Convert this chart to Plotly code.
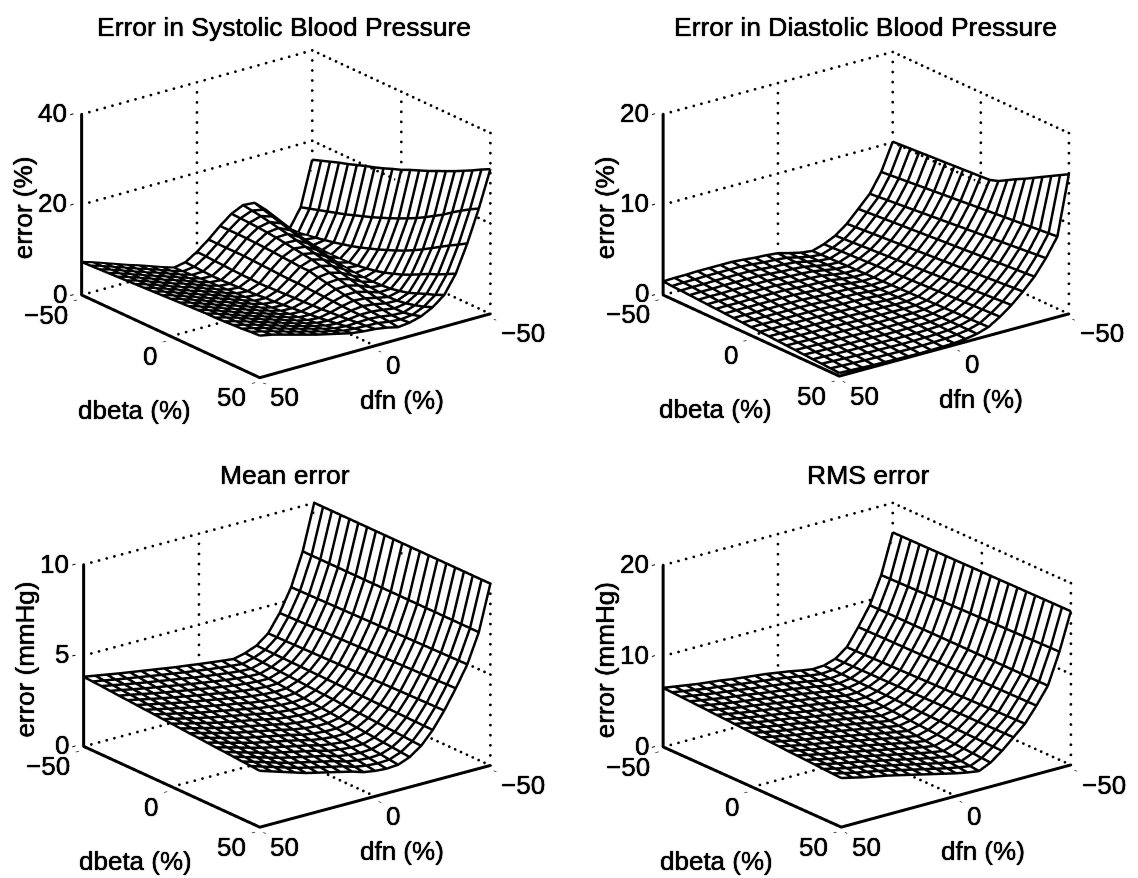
import plotly.graph_objects as go
import math

dfn = [50, 45, 40, 35, 30, 25, 20, 15, 10, 5, 0, -5, -10, -15, -20, -25, -30, -35, -40, -45, -50]
dbeta = [-50, -45, -40, -35, -30, -25, -20, -15, -10, -5, 0, 5, 10, 15, 20, 25, 30, 35, 40, 45, 50]
xy_ticks = [-50, 0, 50]
xy_labels = ["\u221250", "0", "50"]

systolic = [
[7.3,6.5,5.6,4.7,3.8,3.0,2.1,1.2,0.4,0.9,2.5,4.5,6.8,8.8,10.0,9.8,7.5,4.5,1.8,6.0,15.8],
[7.4,6.6,5.7,4.8,3.9,3.1,2.2,1.3,0.5,0.8,2.4,4.5,6.8,8.7,9.7,9.2,6.9,3.9,2.0,6.6,16.5],
[7.5,6.7,5.8,4.9,4.0,3.2,2.3,1.4,0.6,0.7,2.3,4.5,6.8,8.6,9.4,8.6,6.3,3.4,2.3,7.2,17.2],
[7.6,6.8,5.9,5.0,4.1,3.3,2.4,1.5,0.7,0.6,2.2,4.5,6.8,8.5,9.0,8.0,5.7,3.0,2.7,7.8,17.9],
[7.7,6.9,6.0,5.1,4.2,3.4,2.5,1.6,0.8,0.6,2.1,4.5,6.7,8.3,8.6,7.4,5.1,2.7,3.1,8.4,18.5],
[7.8,7.0,6.1,5.2,4.3,3.5,2.6,1.7,0.9,0.7,2.0,4.4,6.6,8.1,8.2,6.8,4.5,2.5,3.5,9.0,19.2],
[7.9,7.1,6.2,5.3,4.4,3.6,2.7,1.8,1.0,0.8,2.0,4.3,6.5,7.8,7.7,6.2,4.0,2.4,4.0,9.7,19.9],
[8.0,7.2,6.3,5.4,4.5,3.7,2.8,1.9,1.1,0.9,1.9,4.2,6.3,7.5,7.2,5.7,3.6,2.4,4.5,10.4,20.5],
[8.1,7.3,6.4,5.5,4.6,3.8,2.9,2.0,1.2,1.0,2.0,4.1,6.2,7.2,6.7,5.2,3.2,2.5,5.1,11.1,21.2],
[8.2,7.4,6.5,5.6,4.7,3.9,3.0,2.1,1.3,1.2,2.1,4.0,6.0,6.9,6.2,4.7,2.9,2.7,5.8,11.9,22.0],
[8.3,7.5,6.6,5.7,4.8,4.0,3.1,2.2,1.5,1.3,2.2,4.0,6.0,6.4,5.7,4.2,2.7,3.0,6.5,12.7,22.7],
[8.4,7.6,6.7,5.8,4.9,4.1,3.2,2.3,1.6,1.5,2.3,3.9,5.5,5.8,5.1,3.7,2.6,3.4,7.3,13.6,23.6],
[8.5,7.7,6.8,5.9,5.0,4.2,3.3,2.5,1.8,1.7,2.4,3.8,5.1,5.3,4.6,3.3,2.6,3.9,8.1,14.5,24.4],
[8.6,7.8,6.9,6.0,5.1,4.3,3.5,2.7,2.0,1.9,2.5,3.7,4.7,4.8,4.1,3.0,2.7,4.6,9.0,15.5,25.2],
[8.7,7.9,7.0,6.1,5.3,4.5,3.7,2.9,2.2,2.1,2.6,3.6,4.3,4.3,3.6,2.8,2.9,5.3,10.0,16.6,26.1],
[8.7,8.0,7.2,6.3,5.5,4.7,3.9,3.1,2.5,2.3,2.8,3.5,4.0,3.8,3.2,2.7,3.3,6.2,11.1,17.8,27.0],
[8.8,8.1,7.3,6.5,5.7,4.9,4.1,3.4,2.8,2.6,2.9,3.4,3.7,3.4,2.9,2.8,3.8,7.2,12.3,19.0,27.9],
[8.9,8.2,7.5,6.7,5.9,5.1,4.4,3.7,3.1,2.9,3.1,3.4,3.4,3.1,2.7,3.1,4.6,8.2,13.5,20.4,28.9],
[9.0,8.4,7.7,6.9,6.1,5.4,4.7,4.0,3.4,3.2,3.3,3.4,3.2,2.8,2.7,3.6,5.4,9.0,14.7,21.7,29.9],
[9.2,8.6,7.9,7.1,6.4,5.7,5.0,4.4,3.8,3.6,3.5,3.4,3.0,2.8,3.1,4.2,6.1,10.0,15.8,22.9,31.0],
[9.3,8.8,8.1,7.4,6.7,6.0,5.4,4.8,4.2,3.9,3.7,3.3,2.7,3.0,3.7,5.0,7.0,11.0,17.0,24.0,32.0],
]
diastolic = [
[1.5,1.55,1.55,1.6,1.6,1.6,1.6,1.5,1.37,1.3,1.18,.85,.55,.4,.8,1.4,2.37,3.67,5.0,7.07,10.07],
[1.44,1.49,1.49,1.53,1.53,1.53,1.53,1.43,1.31,1.24,1.13,.82,.55,.43,.85,1.47,2.44,3.74,5.09,7.16,10.13],
[1.39,1.43,1.42,1.46,1.46,1.46,1.45,1.36,1.25,1.19,1.08,.8,.55,.46,.9,1.53,2.52,3.82,5.19,7.25,10.2],
[1.33,1.36,1.36,1.39,1.39,1.38,1.38,1.29,1.18,1.13,1.03,.77,.55,.48,.94,1.6,2.59,3.89,5.28,7.34,10.26],
[1.27,1.3,1.29,1.32,1.32,1.31,1.3,1.22,1.12,1.07,.98,.75,.55,.51,.99,1.66,2.67,3.97,5.37,7.44,10.33],
[1.21,1.24,1.23,1.25,1.25,1.24,1.23,1.15,1.06,1.01,.94,.72,.55,.54,1.04,1.73,2.74,4.04,5.46,7.53,10.39],
[1.16,1.18,1.16,1.18,1.17,1.17,1.16,1.08,1.0,.96,.89,.69,.55,.57,1.09,1.79,2.81,4.11,5.56,7.62,10.45],
[1.1,1.11,1.1,1.11,1.1,1.09,1.08,1.01,.93,.9,.84,.67,.55,.6,1.13,1.86,2.89,4.19,5.65,7.71,10.52],
[1.04,1.05,1.03,1.04,1.03,1.02,1.01,.94,.87,.84,.79,.64,.55,.62,1.18,1.92,2.96,4.26,5.74,7.8,10.58],
[.98,.99,.97,.97,.96,.95,.93,.87,.81,.78,.74,.62,.55,.65,1.23,1.99,3.04,4.34,5.83,7.89,10.65],
[.93,.93,.9,.9,.89,.88,.86,.8,.75,.73,.69,.59,.55,.68,1.28,2.05,3.11,4.41,5.93,7.99,10.71],
[.87,.86,.84,.83,.82,.8,.79,.73,.68,.67,.64,.56,.55,.71,1.32,2.12,3.18,4.48,6.02,8.08,10.78],
[.81,.8,.77,.76,.75,.73,.71,.66,.62,.61,.59,.54,.55,.74,1.37,2.18,3.26,4.56,6.11,8.17,11.1],
[.75,.74,.71,.69,.68,.66,.64,.59,.56,.55,.54,.51,.55,.76,1.42,2.25,3.33,4.63,6.2,8.26,11.65],
[.7,.68,.64,.62,.61,.59,.56,.52,.5,.5,.49,.49,.55,.79,1.47,2.31,3.41,4.71,6.3,8.35,12.2],
[.64,.61,.58,.55,.53,.51,.49,.45,.43,.44,.45,.46,.55,.82,1.51,2.38,3.48,4.78,6.39,8.44,12.7],
[.58,.55,.51,.48,.46,.44,.42,.38,.37,.38,.4,.43,.55,.85,1.56,2.44,3.55,4.85,6.48,8.53,13.25],
[.52,.49,.45,.41,.39,.37,.34,.31,.31,.32,.35,.41,.55,.88,1.61,2.51,3.63,4.93,6.57,8.63,13.8],
[.47,.43,.38,.34,.32,.3,.27,.24,.25,.27,.3,.38,.55,.9,1.66,2.57,3.7,5.0,6.67,8.72,14.35],
[.41,.36,.32,.27,.25,.22,.19,.17,.18,.21,.25,.36,.55,.93,1.7,2.64,3.78,5.08,6.76,8.81,14.9],
[.35,.3,.25,.2,.18,.15,.12,.1,.12,.15,.2,.33,.55,.96,1.75,2.7,3.85,5.15,6.85,8.9,15.44],
]
mean_err = [
[3.83,3.72,3.61,3.5,3.4,3.3,3.2,3.1,3.0,2.92,2.83,2.75,2.67,2.6,2.75,3.0,3.5,4.45,5.7,7.5,10.0],
[3.79,3.68,3.56,3.45,3.35,3.24,3.14,3.04,2.94,2.85,2.76,2.68,2.61,2.55,2.72,2.99,3.51,4.47,5.71,7.5,10.0],
[3.76,3.64,3.52,3.4,3.29,3.19,3.08,2.98,2.87,2.78,2.69,2.61,2.54,2.51,2.69,2.98,3.52,4.48,5.72,7.5,10.0],
[3.72,3.6,3.47,3.35,3.24,3.13,3.02,2.91,2.81,2.71,2.62,2.54,2.48,2.46,2.65,2.97,3.53,4.5,5.73,7.5,10.0],
[3.68,3.56,3.43,3.3,3.18,3.07,2.96,2.85,2.74,2.64,2.54,2.47,2.42,2.41,2.62,2.96,3.54,4.51,5.74,7.5,10.0],
[3.65,3.52,3.38,3.25,3.13,3.01,2.9,2.79,2.68,2.57,2.47,2.4,2.35,2.36,2.59,2.95,3.55,4.53,5.75,7.5,10.0],
[3.61,3.47,3.34,3.2,3.07,2.96,2.84,2.73,2.61,2.49,2.4,2.33,2.29,2.32,2.56,2.94,3.56,4.54,5.76,7.5,10.0],
[3.57,3.43,3.29,3.15,3.02,2.9,2.78,2.66,2.55,2.42,2.33,2.26,2.23,2.27,2.52,2.93,3.57,4.56,5.77,7.5,10.0],
[3.54,3.39,3.25,3.1,2.96,2.84,2.72,2.6,2.48,2.35,2.26,2.19,2.16,2.22,2.49,2.92,3.58,4.57,5.78,7.5,10.0],
[3.5,3.35,3.2,3.05,2.91,2.78,2.66,2.54,2.42,2.28,2.19,2.12,2.1,2.17,2.46,2.91,3.59,4.59,5.79,7.5,10.0],
[3.47,3.31,3.16,3.0,2.85,2.73,2.6,2.48,2.35,2.21,2.12,2.05,2.04,2.13,2.43,2.9,3.6,4.6,5.8,7.5,10.0],
[3.43,3.27,3.11,2.95,2.8,2.67,2.54,2.41,2.29,2.14,2.04,1.98,1.97,2.08,2.39,2.89,3.61,4.62,5.81,7.5,10.0],
[3.39,3.23,3.06,2.9,2.74,2.61,2.48,2.35,2.22,2.07,1.97,1.91,1.91,2.03,2.36,2.88,3.62,4.63,5.82,7.5,10.0],
[3.36,3.19,3.02,2.85,2.69,2.55,2.42,2.29,2.16,2.0,1.9,1.84,1.84,1.98,2.33,2.87,3.63,4.65,5.83,7.5,10.0],
[3.32,3.15,2.97,2.8,2.63,2.5,2.36,2.23,2.09,1.93,1.83,1.77,1.78,1.94,2.3,2.86,3.64,4.66,5.84,7.5,10.0],
[3.28,3.11,2.93,2.75,2.58,2.44,2.3,2.16,2.03,1.86,1.76,1.7,1.72,1.89,2.26,2.85,3.65,4.68,5.85,7.5,10.0],
[3.25,3.06,2.88,2.7,2.52,2.38,2.24,2.1,1.96,1.78,1.69,1.63,1.65,1.84,2.23,2.84,3.66,4.69,5.86,7.5,10.0],
[3.21,3.02,2.84,2.65,2.47,2.32,2.18,2.04,1.9,1.71,1.61,1.56,1.59,1.79,2.2,2.83,3.67,4.71,5.87,7.5,10.0],
[3.17,2.98,2.79,2.6,2.41,2.27,2.12,1.98,1.83,1.64,1.54,1.49,1.53,1.75,2.17,2.82,3.68,4.72,5.88,7.5,10.0],
[3.14,2.94,2.75,2.55,2.36,2.21,2.06,1.91,1.77,1.57,1.47,1.42,1.46,1.7,2.13,2.81,3.69,4.74,5.89,7.5,10.0],
[3.1,2.9,2.7,2.5,2.3,2.15,2.0,1.85,1.7,1.5,1.4,1.35,1.4,1.65,2.1,2.8,3.7,4.75,5.9,7.5,10.0],
]
rms_err = [
[6.5,6.3,6.1,5.9,5.75,5.6,5.4,5.25,5.1,4.95,4.75,4.55,4.3,4.1,4.16,4.57,5.5,7.37,9.43,12.4,16.75],
[6.45,6.24,6.04,5.83,5.68,5.52,5.32,5.16,5.0,4.84,4.64,4.44,4.19,4.03,4.13,4.58,5.52,7.38,9.43,12.42,16.76],
[6.39,6.18,5.97,5.77,5.61,5.44,5.23,5.07,4.9,4.74,4.53,4.32,4.08,3.96,4.1,4.59,5.54,7.39,9.43,12.44,16.77],
[6.34,6.12,5.91,5.7,5.53,5.36,5.15,4.97,4.8,4.63,4.41,4.21,3.96,3.88,4.08,4.6,5.56,7.4,9.43,12.46,16.77],
[6.28,6.06,5.84,5.63,5.46,5.28,5.06,4.88,4.7,4.52,4.3,4.09,3.85,3.81,4.05,4.61,5.58,7.41,9.42,12.48,16.78],
[6.23,6.0,5.78,5.56,5.39,5.2,4.98,4.79,4.6,4.41,4.19,3.98,3.74,3.74,4.02,4.61,5.6,7.41,9.42,12.5,16.79],
[6.17,5.94,5.71,5.5,5.32,5.12,4.89,4.7,4.5,4.31,4.08,3.86,3.63,3.67,3.99,4.62,5.62,7.42,9.42,12.52,16.8],
[6.12,5.88,5.65,5.43,5.24,5.04,4.81,4.6,4.4,4.2,3.96,3.75,3.52,3.59,3.96,4.63,5.64,7.43,9.42,12.54,16.8],
[6.06,5.82,5.58,5.36,5.17,4.96,4.72,4.51,4.3,4.09,3.85,3.63,3.4,3.52,3.94,4.64,5.66,7.44,9.42,12.56,16.81],
[6.01,5.76,5.52,5.29,5.1,4.88,4.64,4.42,4.2,3.98,3.74,3.52,3.29,3.45,3.91,4.65,5.68,7.45,9.42,12.58,16.82],
[5.95,5.7,5.45,5.23,5.03,4.8,4.55,4.33,4.1,3.88,3.63,3.4,3.18,3.38,3.88,4.66,5.7,7.46,9.42,12.6,16.83],
[5.9,5.64,5.39,5.16,4.95,4.72,4.47,4.23,4.0,3.77,3.51,3.29,3.07,3.3,3.85,4.67,5.72,7.47,9.41,12.62,16.83],
[5.84,5.58,5.32,5.09,4.88,4.64,4.38,4.14,3.9,3.66,3.4,3.17,2.96,3.23,3.82,4.68,5.74,7.48,9.41,12.64,16.84],
[5.79,5.52,5.26,5.02,4.81,4.56,4.3,4.05,3.8,3.55,3.29,3.06,2.84,3.16,3.8,4.69,5.76,7.49,9.41,12.66,16.85],
[5.73,5.46,5.19,4.96,4.74,4.48,4.21,3.96,3.7,3.45,3.18,2.94,2.73,3.09,3.77,4.7,5.78,7.5,9.41,12.68,16.86],
[5.68,5.4,5.13,4.89,4.66,4.4,4.13,3.86,3.6,3.34,3.06,2.83,2.62,3.01,3.74,4.71,5.8,7.5,9.41,12.7,16.86],
[5.62,5.34,5.06,4.82,4.59,4.32,4.04,3.77,3.5,3.23,2.95,2.71,2.51,2.94,3.71,4.71,5.82,7.51,9.41,12.72,16.87],
[5.57,5.28,5.0,4.75,4.52,4.24,3.96,3.68,3.4,3.12,2.84,2.6,2.4,2.87,3.68,4.72,5.84,7.52,9.4,12.74,16.88],
[5.51,5.22,4.93,4.69,4.45,4.16,3.87,3.59,3.3,3.02,2.73,2.48,2.28,2.8,3.66,4.73,5.86,7.53,9.4,12.76,16.89],
[5.46,5.16,4.87,4.62,4.37,4.08,3.79,3.49,3.2,2.91,2.61,2.37,2.17,2.72,3.63,4.74,5.88,7.54,9.4,12.78,16.89],
[5.4,5.1,4.8,4.55,4.3,4.0,3.7,3.4,3.1,2.8,2.5,2.25,2.06,2.65,3.6,4.75,5.9,7.55,9.4,12.8,16.9],
]

panels = [
    dict(t="Error in Systolic Blood Pressure", z=systolic, zt=[0, 20, 40], zl="error (%)", c=(285.5, 213.5), sb=(180, 83), sf=(233, 63), H=180, tx=284, ty=27),
    dict(t="Error in Diastolic Blood Pressure", z=diastolic, zt=[0, 10, 20], zl="error (%)", c=(866, 213.5), sb=(178, 82), sf=(232, 61), H=180, tx=866, ty=27),
    dict(t="Mean error", z=mean_err, zt=[0, 5, 10], zl="error (mmHg)", c=(286.5, 665), sb=(178, 81), sf=(233, 61), H=181, tx=285, ty=475),
    dict(t="RMS error", z=rms_err, zt=[0, 10, 20], zl="error (mmHg)", c=(867, 665), sb=(180, 81), sf=(232, 61), H=181, tx=868, ty=475),
]
W, H = 1138, 878
UNIT = 192.0    # on-screen length of an axis of aspect 1 in a scene of this size
KY = 0.985      # vertical squeeze of the orthographic view in a scene of this shape
EYE = 4.0
PUSH = 5.0      # white occluder sits this many pixels behind the mesh, along the line of sight
PAD = 0.02      # axis ranges run this fraction past the ticks so border lines are not clipped
FONT = "Liberation Sans"
SHADOW = "0 0 1.2px black, 0 0 0.6px black"


def lab(x, y, z, text, xa, ya, xs, ys, size=26, angle=0):
    return dict(x=x, y=y, z=z, text=text, showarrow=False, xanchor=xa, yanchor=ya, xshift=xs, yshift=ys, textangle=angle,
                font=dict(family=FONT, size=size, color="black", shadow=SHADOW))


fig = go.Figure()
layout = {}
anns = []
for k, p in enumerate(panels):
    sc = f"scene{k+1}" if k else "scene"
    zt = p["zt"]
    lo, hi = zt[0], zt[-1]
    a = math.hypot(p["sb"][0], p["sf"][0])
    se = (p["sb"][1] / p["sf"][0] + p["sf"][1] / p["sb"][0]) / 2 / KY
    ce = math.sqrt(1 - se * se)
    vx, vy, vz = p["sb"][0] / a * ce, p["sf"][0] / a * ce, se
    zpix = p["H"] / (KY * ce)
    sx = PUSH * vx / a * 100
    sy = PUSH * vy / a * 100
    sz = PUSH * vz / zpix * (hi - lo)
    fig.add_trace(go.Surface(x=[v - sx for v in dfn], y=[v - sy for v in dbeta], z=[[v - sz for v in r] for r in p["z"]],
        scene=sc, showscale=False, colorscale=[[0, "white"], [1, "white"]], hoverinfo="skip",
        lighting=dict(ambient=1, diffuse=0, specular=0, roughness=1, fresnel=0),
        contours=dict(x=dict(show=False, highlight=False), y=dict(show=False, highlight=False), z=dict(show=False, highlight=False))))
    # mesh lines, taken from the same arrays
    mx, my, mz = [], [], []
    for i, row in enumerate(p["z"]):
        mx += dfn + [None]; my += [dbeta[i]] * 21 + [None]; mz += row + [None]
    for j in range(21):
        mx += [dfn[j]] * 21 + [None]; my += dbeta + [None]; mz += [r[j] for r in p["z"]] + [None]
    fig.add_trace(go.Scatter3d(x=mx, y=my, z=mz, mode="lines", scene=sc, hoverinfo="skip", showlegend=False,
                               line=dict(color="black", width=5)))
    # dotted grid on the back walls and floor
    gx, gy, gz = [], [], []

    def dots(a0, b0, n):
        for i in range(n + 1):
            f = i / n
            gx.append(a0[0] + (b0[0] - a0[0]) * f); gy.append(a0[1] + (b0[1] - a0[1]) * f); gz.append(a0[2] + (b0[2] - a0[2]) * f)

    for zv in zt[1:]:
        dots((50, -50, zv), (-50, -50, zv), 30)
        dots((-50, -50, zv), (-50, 50, zv), 30)
    for t in (0, -50):
        dots((t, -50, lo), (t, -50, hi), 18)
        dots((t, -50, lo), (t, 50, lo), 30)
    for t in (0, 50):
        dots((-50, t, lo), (-50, t, hi), 18)
    for t in (0, -50):
        dots((-50, t, lo), (50, t, lo), 30)
    fig.add_trace(go.Scatter3d(x=gx, y=gy, z=gz, mode="markers", scene=sc, hoverinfo="skip", showlegend=False,
                               marker=dict(color="black", size=1.6, line=dict(width=0))))
    # solid axis lines
    fig.add_trace(go.Scatter3d(x=[50, 50, None, 50, 50, -50], y=[-50, -50, None, -50, 50, 50], z=[lo, hi, None, lo, lo, lo],
                               mode="lines", scene=sc, hoverinfo="skip", showlegend=False, line=dict(color="black", width=6)))
    eye = dict(x=vx * EYE, y=vy * EYE, z=vz * EYE)
    base = dict(showbackground=False, showgrid=False, zeroline=False, showline=False,
                ticks="outside", ticklen=4, tickcolor="black", tickwidth=2, showspikes=False,
                showticklabels=False, title=dict(text=""))
    sa = []
    for t, l in zip(xy_ticks, xy_labels):
        sa.append(lab(50, t, lo, l, "right", "middle", -11, -20))
        sa.append(lab(t, 50, lo, l, "left", "middle", 9, -20))
    for t in zt:
        sa.append(lab(50, -50, t, str(t), "right", "middle", -12, 1))
    sa.append(lab(50, 0, lo, "dbeta (%)", "center", "middle", -36, -74))
    sa.append(lab(0, 50, lo, "dfn (%)", "center", "middle", 27, -55))
    sa.append(lab(50, -50, zt[1], p["zl"], "center", "middle", -58, -4, angle=-90))
    xyr = [-50 - 100 * PAD, 50 + 100 * PAD]
    zpad = (hi - lo) * PAD
    layout[sc] = dict(
        domain=dict(x=[(p["c"][0] - 250) / W, (p["c"][0] + 250) / W], y=[1 - (p["c"][1] + 190) / H, 1 - (p["c"][1] - 190) / H]),
        aspectmode="manual",
        aspectratio=dict(x=a / UNIT * (1 + 2 * PAD), y=a / UNIT * (1 + 2 * PAD), z=zpix / UNIT * (1 + 2 * PAD)),
        camera=dict(eye=eye, center=dict(x=0, y=0, z=0), up=dict(x=0, y=0, z=1), projection=dict(type="orthographic")),
        xaxis=dict(base, range=xyr, tickvals=xy_ticks),
        yaxis=dict(base, range=xyr, tickvals=xy_ticks),
        zaxis=dict(base, range=[lo - zpad, hi + zpad], tickvals=zt),
        annotations=sa,
    )
    anns.append(dict(text=p["t"], x=p["tx"] / W, y=1 - p["ty"] / H, xref="paper", yref="paper", showarrow=False,
                     xanchor="center", yanchor="middle", font=dict(family=FONT, size=26.5, color="black", shadow=SHADOW)))
fig.update_layout(width=W, height=H, margin=dict(l=0, r=0, t=0, b=0), paper_bgcolor="white", showlegend=False, annotations=anns, **layout)
fig.write_html("out.html", config=dict(displayModeBar=False), post_script="document.body.style.margin='0';")
